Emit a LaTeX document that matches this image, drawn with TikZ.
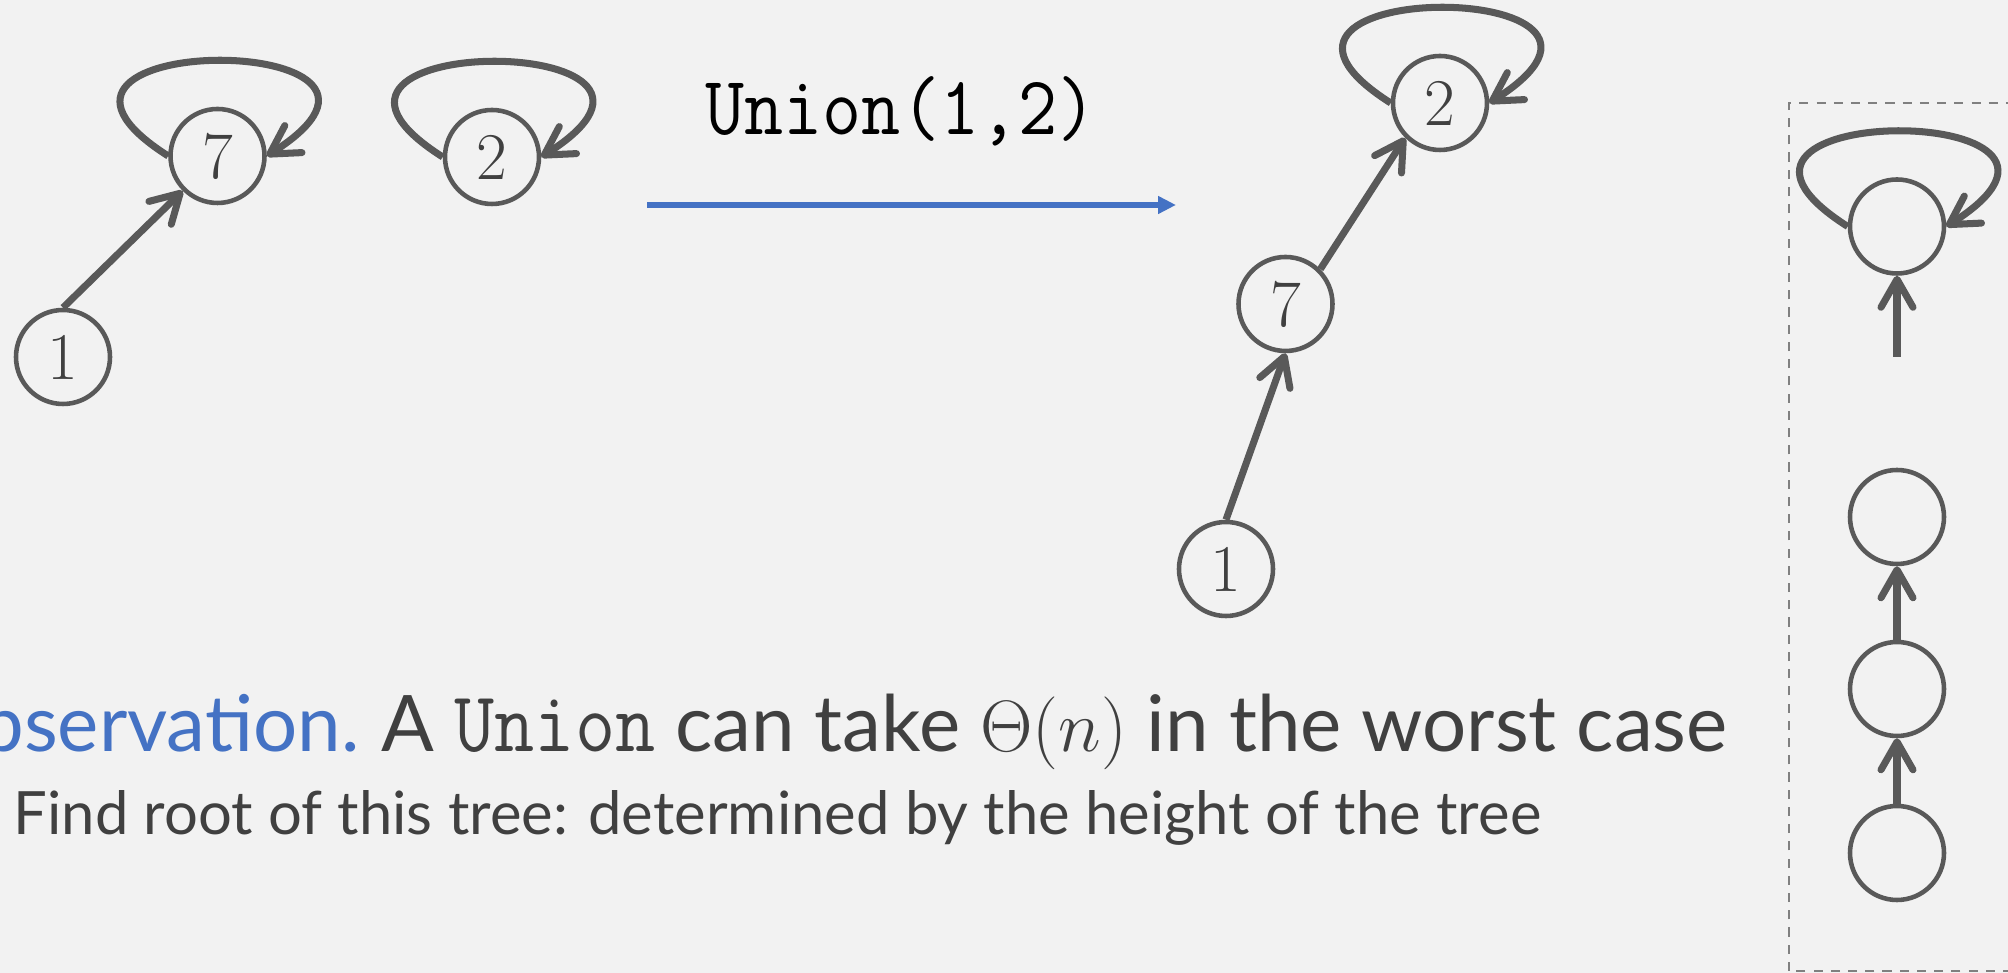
\documentclass[tikz,border=0pt]{standalone}
\usepackage{fontspec}
\setsansfont{Lato}
\usetikzlibrary{arrows.meta}

\definecolor{slidebg}{HTML}{F2F2F2}
\definecolor{linegray}{HTML}{595959}
\definecolor{textgray}{HTML}{404040}
\definecolor{boxgray}{HTML}{808080}
\definecolor{accent}{HTML}{4472C4}

\tikzset{
  elem/.style={circle,draw=linegray,line width=1.3pt,minimum size=0.94cm,inner sep=0pt,
    text=textgray,font=\fontsize{19}{22}\selectfont},
  parent/.style={draw=linegray,line width=2pt,-{Straight Barb[length=2.8mm,width=3.2mm,round]}},
  slidetext/.style={inner sep=0pt,text=textgray,font=\sffamily\fontsize{22.2}{26}\selectfont},
}

\begin{document}
\begin{tikzpicture}
\useasboundingbox (0,0) rectangle (20.08,9.73);
\clip (0,0) rectangle (20.08,9.73);
\fill[slidebg] (0,0) rectangle (20.08,9.73);

% before the union
\node[elem] (l1) at (0.63,6.16) {1};
\node[elem] (l7) at (2.175,8.17) {7};
\node[elem] (l2) at (4.92,8.16) {2};
\draw[parent] (l1.north) -- (l7.south west);
\draw[parent] (l7.west) .. controls +(-2,1.27) and +(2,1.27) .. (l7.east);
\draw[parent] (l2.west) .. controls +(-2,1.27) and +(2,1.27) .. (l2.east);

% the operation
\node[anchor=base,inner sep=0pt,font=\ttfamily\fontsize{21.6}{24}\selectfont] (op) at (9.01,8.38) {\scalebox{1}[1.1]{Union(1,2)}};
\coordinate (ua) at (6.47,7.68);
\coordinate (ub) at (11.76,7.68);
\draw[accent,line width=1.6pt,-{Triangle[length=1.8mm,width=1.7mm]}] (ua) -- (ub);

% after the union
\node[elem] (r1) at (12.26,4.04) {1};
\node[elem] (r7) at (12.855,6.69) {7};
\node[elem] (r2) at (14.40,8.70) {2};
\draw[parent] (r1.north) -- (r7.south);
\draw[parent] (r7.north east) -- (r2.south west);
\draw[parent] (r2.west) .. controls +(-2,1.27) and +(2,1.27) .. (r2.east);

% the remark
\node[slidetext,anchor=base east,text=accent] (obs) at (3.60,2.21) {Observation.};
\node[slidetext,anchor=base west] (claim) at (3.81,2.21) {A \scalebox{1}[1.1]{\texttt{Union}} can take $\Theta(n)$ in the worst case};
\node[slidetext,anchor=base west,font=\sffamily\fontsize{17}{20}\selectfont] (hint) at (0.13,1.38) {Find root of this tree: determined by the height of the tree};

% tall tree
\draw[boxgray,line width=0.75pt,dash pattern=on 2.6pt off 2.3pt] (17.89,0.02) rectangle (20.4,8.70);
\node[elem] (c1) at (18.97,7.465) {};
\node[elem] (c2) at (18.97,4.56) {};
\node[elem] (c3) at (18.97,2.84) {};
\node[elem] (c4) at (18.97,1.20) {};
\coordinate (gap) at (18.97,6.16);
\draw[parent] (gap) -- (c1.south);
\draw[parent] (c4.north) -- (c3.south);
\draw[parent] (c3.north) -- (c2.south);
\draw[parent] (c1.west) .. controls +(-2,1.27) and +(2,1.27) .. (c1.east);
\end{tikzpicture}
\end{document}
